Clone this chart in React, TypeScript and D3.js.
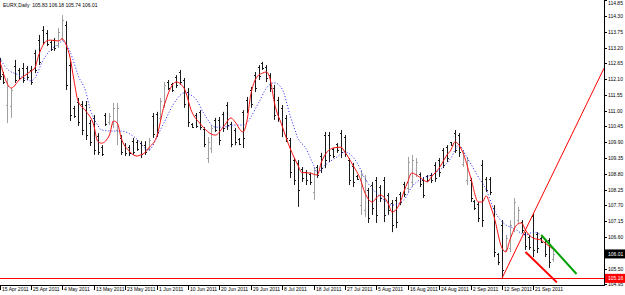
import React, { useEffect, useRef } from "react";
import * as d3 from "d3";

// EURX daily bars, 15 Apr 2011 .. 27 Sep 2011 (Sunday bars included)
const opens = [
  112.70, 112.28, 111.20, 111.17, 112.56, 112.42, 112.49, 112.49, 112.42, 113.01,
  113.46, 113.81, 113.71, 113.39, 113.46, 113.29, 113.53, 113.99, 112.59, 111.10,
  111.30, 111.23, 111.20, 110.57, 110.75, 110.12, 109.73, 110.85, 110.61, 110.54,
  110.33, 110.05, 109.80, 109.73, 109.94, 109.91, 109.87, 109.80, 109.67, 110.81,
  110.89, 110.75, 111.20, 112.00, 111.93, 112.17, 112.35, 112.07, 111.65, 110.54,
  110.85, 110.96, 110.36, 109.35, 109.70, 110.68, 110.68, 110.89, 111.20, 110.54,
  110.33, 110.01, 110.96, 111.37, 111.72, 112.24, 112.52, 112.66, 112.52, 112.24,
  111.79, 111.37, 111.10, 110.75, 109.98, 109.28, 109.18, 108.97, 108.85, 108.79,
  108.17, 109.04, 109.42, 110.15, 110.15, 109.67, 109.84, 110.22, 110.08, 109.28,
  109.07, 108.72, 107.71, 107.54, 108.24, 108.41, 108.59, 108.34, 108.59, 108.06,
  107.78, 107.89, 108.10, 108.45, 108.31, 108.52, 108.79, 108.79, 108.59, 108.72,
  108.76, 109.11, 109.28, 109.63, 109.73, 109.91, 110.22, 110.15, 109.14, 108.59,
  108.59, 107.85, 107.75, 109.11, 108.62, 108.62, 107.61, 106.01, 107.02, 106.15,
  106.22, 106.91, 107.19, 107.12, 106.70, 106.60, 107.33, 106.70, 106.56, 106.42,
  106.49, 105.83,
];
const highs = [
  112.84, 112.35, 112.14, 111.79, 112.77, 112.49, 112.66, 112.56, 112.56, 113.12,
  113.64, 113.95, 113.81, 113.46, 113.53, 113.88, 114.33, 114.12, 112.73, 111.17,
  111.44, 111.34, 111.34, 110.68, 110.85, 110.22, 109.80, 110.92, 110.92, 111.27,
  111.27, 110.15, 109.87, 109.80, 110.05, 109.98, 109.94, 109.94, 110.05, 110.92,
  110.96, 111.44, 112.00, 112.07, 111.97, 112.24, 112.42, 112.14, 111.79, 110.57,
  110.92, 111.02, 110.43, 110.08, 110.50, 110.75, 110.78, 110.96, 111.30, 110.61,
  110.40, 110.05, 111.02, 111.48, 111.83, 112.35, 112.59, 112.70, 112.59, 112.31,
  111.90, 111.48, 111.20, 110.85, 110.05, 109.35, 109.28, 109.04, 108.93, 108.85,
  109.04, 109.11, 109.53, 110.26, 110.26, 109.70, 109.87, 110.33, 110.15, 109.35,
  109.18, 108.76, 108.93, 108.76, 108.31, 108.52, 108.69, 108.41, 108.69, 108.13,
  107.89, 107.99, 108.17, 108.52, 109.39, 109.46, 109.35, 108.85, 108.69, 108.76,
  108.83, 109.21, 109.35, 109.70, 109.80, 109.91, 110.33, 110.22, 109.63, 109.39,
  108.66, 107.89, 107.82, 109.28, 108.69, 108.69, 107.71, 106.04, 107.19, 106.67,
  107.19, 107.96, 107.65, 107.19, 106.77, 106.67, 107.43, 106.77, 106.60, 106.49,
  106.56, 106.18,
];
const lows = [
  112.07, 111.93, 110.57, 110.75, 111.97, 112.07, 111.97, 112.07, 111.90, 112.31,
  112.59, 113.29, 113.25, 113.08, 113.08, 113.18, 113.43, 111.72, 110.64, 110.75,
  110.47, 110.15, 109.98, 109.77, 109.46, 109.46, 109.42, 110.47, 110.50, 110.40,
  109.80, 109.46, 109.42, 109.42, 109.46, 109.60, 109.35, 109.46, 109.60, 110.05,
  110.08, 110.61, 111.10, 111.72, 111.65, 111.79, 111.90, 111.10, 110.43, 110.40,
  110.40, 110.33, 109.73, 109.18, 109.53, 110.26, 109.80, 110.26, 110.33, 109.73,
  109.80, 109.80, 109.70, 110.92, 111.10, 111.65, 112.07, 112.42, 112.00, 111.65,
  110.68, 110.61, 110.08, 109.91, 108.66, 108.41, 107.65, 108.52, 108.41, 108.41,
  107.89, 108.66, 108.83, 109.00, 109.21, 109.35, 109.53, 109.35, 109.39, 108.41,
  108.34, 108.59, 107.37, 107.30, 107.09, 107.37, 107.09, 107.82, 107.12, 107.37,
  106.77, 106.91, 107.71, 107.99, 108.17, 108.34, 108.69, 108.34, 107.96, 108.52,
  108.48, 108.52, 108.69, 109.00, 109.21, 109.77, 109.53, 109.39, 109.04, 108.41,
  107.82, 107.54, 107.12, 106.95, 108.17, 108.06, 105.90, 105.62, 105.16, 106.08,
  106.08, 106.77, 107.09, 106.74, 106.15, 106.15, 105.90, 106.04, 106.39, 105.90,
  105.52, 105.74,
];
const closes = [
  112.21, 112.00, 111.86, 111.72, 112.07, 112.14, 112.07, 112.17, 112.00, 112.42,
  112.70, 113.39, 113.32, 113.15, 113.18, 113.74, 114.16, 111.90, 110.85, 110.81,
  110.61, 110.33, 110.15, 109.91, 109.63, 109.56, 109.49, 110.54, 110.81, 111.10,
  111.10, 109.56, 109.53, 109.53, 109.56, 109.67, 109.49, 109.56, 109.98, 110.19,
  110.26, 111.34, 111.90, 111.79, 111.72, 111.90, 112.00, 111.23, 110.61, 110.43,
  110.47, 110.43, 109.84, 109.91, 110.40, 110.33, 109.98, 110.40, 110.50, 109.84,
  109.91, 109.84, 110.05, 111.02, 111.23, 111.79, 112.21, 112.49, 112.14, 111.79,
  110.85, 110.75, 110.33, 110.05, 108.85, 108.59, 108.24, 108.66, 108.59, 108.52,
  108.93, 108.76, 109.00, 109.28, 109.46, 109.42, 109.63, 109.56, 109.49, 108.59,
  108.52, 108.62, 108.76, 108.59, 107.26, 107.61, 107.37, 107.96, 107.37, 107.54,
  107.02, 107.12, 107.82, 108.10, 109.21, 109.28, 109.21, 108.45, 108.06, 108.59,
  108.59, 108.66, 108.85, 109.11, 109.35, 109.80, 109.63, 109.56, 109.53, 109.28,
  107.96, 107.61, 107.26, 107.19, 108.24, 108.17, 106.08, 105.73, 105.45, 106.56,
  107.02, 107.82, 107.54, 106.84, 106.29, 106.25, 106.15, 106.22, 106.42, 106.01,
  105.73, 106.01,
];

// red moving average (bar index, value)
const maFast: [number, number][] = [
  [0, 112.77], [3, 111.79], [5, 112.07], [8, 112.38], [9, 112.49], [10, 112.94],
  [12, 113.43], [13, 113.46], [15, 113.43], [16, 113.5], [17, 113.29], [18, 112.84],
  [19, 112.04], [20, 111.34], [22, 110.99], [24, 110.5], [25, 109.94], [26, 109.87],
  [28, 110.15], [29, 110.64], [30, 110.57], [31, 110.05], [33, 109.6], [35, 109.42],
  [36, 109.46], [37, 109.53], [38, 109.7], [40, 110.08], [42, 111.2], [45, 112.0],
  [47, 111.79], [49, 110.96], [51, 110.57], [55, 110.15], [57, 110.43], [59, 110.75],
  [60, 110.61], [62, 110.26], [63, 110.61], [64, 111.55], [66, 112.24], [67, 112.31],
  [68, 112.35], [69, 112.07], [70, 111.3], [72, 110.47], [74, 109.7], [76, 109.11],
  [77, 108.85], [79, 108.83], [81, 108.76], [82, 109.21], [85, 109.7], [87, 109.73],
  [88, 109.56], [90, 109.11], [92, 108.59], [93, 108.17], [95, 107.82], [96, 107.96],
  [97, 108.06], [99, 107.78], [100, 107.47], [102, 107.78], [103, 108.17], [104, 108.52],
  [105, 108.83], [107, 108.69], [109, 108.52], [110, 108.69], [112, 109.0], [114, 109.46],
  [115, 109.63], [116, 109.91], [118, 109.56], [120, 108.69], [122, 107.82], [123, 107.82],
  [124, 108.03], [125, 107.71], [126, 107.3], [128, 106.22], [129, 106.08], [130, 106.49],
  [132, 107.05], [133, 107.09], [134, 106.84], [136, 106.56], [138, 106.49], [139, 106.39],
  [141, 106.18],
];

// blue dotted moving average
const maSlow: [number, number][] = [
  [0, 112.84], [2, 112.45], [5, 112.24], [8, 112.04], [9, 112.14], [11, 112.73],
  [13, 113.12], [15, 113.32], [16, 113.43], [18, 113.05], [19, 112.66], [20, 112.24],
  [22, 111.65], [23, 111.1], [25, 110.5], [26, 110.33], [29, 110.29], [31, 110.29],
  [34, 110.12], [36, 109.87], [37, 109.7], [38, 109.63], [39, 109.77], [40, 110.05],
  [42, 110.61], [45, 111.37], [47, 111.62], [50, 111.41], [52, 110.92], [55, 110.43],
  [57, 110.43], [60, 110.5], [62, 110.5], [66, 111.27], [68, 111.79], [70, 111.97],
  [72, 111.76], [74, 110.85], [75, 110.43], [76, 110.05], [78, 109.7], [80, 109.11],
  [81, 108.85], [83, 109.11], [86, 109.39], [88, 109.56], [91, 109.21], [93, 108.66],
  [96, 108.13], [98, 107.89], [100, 107.71], [103, 107.89], [105, 108.34], [108, 108.66],
  [110, 108.76], [113, 109.04], [115, 109.35], [117, 109.8], [119, 109.39], [122, 108.69],
  [124, 108.24], [126, 107.54], [129, 107.02], [131, 106.91], [134, 106.67], [136, 106.77],
  [138, 106.67],
];

const dateLabels = [
  "15 Apr 2011", "25 Apr 2011", "4 May 2011", "13 May 2011", "23 May 2011", "1 Jun 2011",
  "10 Jun 2011", "20 Jun 2011", "29 Jun 2011", "8 Jul 2011", "18 Jul 2011", "27 Jul 2011",
  "5 Aug 2011", "16 Aug 2011", "24 Aug 2011", "2 Sep 2011", "12 Sep 2011", "21 Sep 2011",
];
const priceTicks = [
  114.85, 114.3, 113.75, 113.2, 112.65, 112.1, 111.55, 111.0, 110.45, 109.9, 109.35,
  108.8, 108.25, 107.7, 107.15, 106.6, 106.05, 105.5, 104.95,
];

// drawn objects
const upTrend: [number, number][] = [[128, 105.16], [154, 112.48]];
const greenLine: [number, number][] = [[138, 106.67], [147, 105.31]];
const redLine: [number, number][] = [[134, 106.08], [142, 105.02]];
const supportLevel = 105.16;
const lastPrice = 106.01;
const title = "EURX,Daily  105.83 106.18 105.74 106.01";

const W = 625;
const H = 295;
const plotR = 604;
const plotB = 285;

const App: React.FC = () => {
  const svgRef = useRef<SVGSVGElement | null>(null);

  useEffect(() => {
    const svg = d3.select(svgRef.current);
    svg.selectAll("*").remove();

    const x = d3.scaleLinear().domain([0, 154]).range([-0.5, plotR]);
    const y = d3.scaleLinear().domain([104.928, 114.857]).range([plotB, 0]);
    const font = "'Liberation Sans', Arial, sans-serif";

    svg.append("rect").attr("width", W).attr("height", H).attr("fill", "#fff");

    svg.append("defs").append("clipPath").attr("id", "plot")
      .append("rect").attr("x", 0).attr("y", 0).attr("width", plotR).attr("height", plotB + 1);

    const g = svg.append("g").attr("clip-path", "url(#plot)");

    // support line
    g.append("line")
      .attr("x1", 0).attr("x2", plotR)
      .attr("y1", Math.round(y(supportLevel)) + 0.5).attr("y2", Math.round(y(supportLevel)) + 0.5)
      .attr("stroke", "#ff0000").attr("stroke-width", 1);

    // bars
    const px = (i: number) => Math.round(x(i)) + 0.5;
    opens.forEach((o, i) => {
      const c = closes[i];
      const col = c > o ? "#a0a0a0" : "#1a1a1a";
      const bx = px(i);
      g.append("line").attr("x1", bx).attr("x2", bx)
        .attr("y1", y(highs[i])).attr("y2", y(lows[i]))
        .attr("stroke", col).attr("stroke-width", 1);
      g.append("line").attr("x1", bx - 1.5).attr("x2", bx)
        .attr("y1", Math.round(y(o)) + 0.5).attr("y2", Math.round(y(o)) + 0.5)
        .attr("stroke", col).attr("stroke-width", 1);
      g.append("line").attr("x1", bx).attr("x2", bx + 1.5)
        .attr("y1", Math.round(y(c)) + 0.5).attr("y2", Math.round(y(c)) + 0.5)
        .attr("stroke", col).attr("stroke-width", 1);
    });

    const line = d3.line<[number, number]>()
      .x((d) => x(d[0]))
      .y((d) => y(d[1]))
      .curve(d3.curveMonotoneX);

    g.append("path").attr("d", line(maSlow) || "")
      .attr("fill", "none").attr("stroke", "#2020ff").attr("stroke-width", 1)
      .attr("stroke-dasharray", "1,2");
    g.append("path").attr("d", line(maFast) || "")
      .attr("fill", "none").attr("stroke", "#ff1010").attr("stroke-width", 1);

    const straight = d3.line<[number, number]>().x((d) => x(d[0])).y((d) => y(d[1]));
    g.append("path").attr("d", straight(upTrend) || "")
      .attr("fill", "none").attr("stroke", "#ff0000").attr("stroke-width", 1);
    g.append("path").attr("d", straight(greenLine) || "")
      .attr("fill", "none").attr("stroke", "#00a000").attr("stroke-width", 2);
    g.append("path").attr("d", straight(redLine) || "")
      .attr("fill", "none").attr("stroke", "#ff0000").attr("stroke-width", 2);

    // frame
    svg.append("line").attr("x1", plotR + 0.5).attr("x2", plotR + 0.5)
      .attr("y1", 0).attr("y2", plotB + 1).attr("stroke", "#000");
    svg.append("line").attr("x1", 0).attr("x2", plotR + 1)
      .attr("y1", plotB + 0.5).attr("y2", plotB + 0.5).attr("stroke", "#000");

    // price axis
    priceTicks.forEach((v) => {
      const ty = Math.round(y(v)) + 0.5;
      svg.append("line").attr("x1", plotR).attr("x2", plotR + 3)
        .attr("y1", ty).attr("y2", ty).attr("stroke", "#000");
      svg.append("text").attr("x", plotR + 4).attr("y", Math.max(ty + 1.8, 4.5))
        .attr("font-family", font).attr("font-size", 5).attr("fill", "#000")
        .text(v.toFixed(2));
    });

    // price labels
    const tag = (v: number, bg: string) => {
      const ty = y(v);
      svg.append("rect").attr("x", plotR + 1).attr("y", ty - 4.5)
        .attr("width", W - plotR - 1).attr("height", 9).attr("fill", bg);
      svg.append("text").attr("x", plotR + 4).attr("y", ty + 1.8)
        .attr("font-family", font).attr("font-size", 5).attr("fill", "#fff")
        .text(v.toFixed(2));
    };
    tag(lastPrice, "#000");
    tag(supportLevel, "#ff0000");

    // date axis
    dateLabels.forEach((lbl, k) => {
      const tx = px(k * 8);
      svg.append("line").attr("x1", tx).attr("x2", tx)
        .attr("y1", plotB + 1).attr("y2", plotB + 5).attr("stroke", "#000");
      svg.append("text").attr("x", tx + 1.5).attr("y", plotB + 5.5)
        .attr("font-family", font).attr("font-size", 5).attr("fill", "#000")
        .text(lbl);
    });

    svg.append("text").attr("x", 3).attr("y", 7)
      .attr("font-family", font).attr("font-size", 5).attr("fill", "#000")
      .attr("xml:space", "preserve").style("white-space", "pre")
      .text(title);
  }, []);

  return (
    <svg
      ref={svgRef}
      width={W}
      height={H}
      style={{ position: "absolute", left: 0, top: 0 }}
    />
  );
};

export default App;
